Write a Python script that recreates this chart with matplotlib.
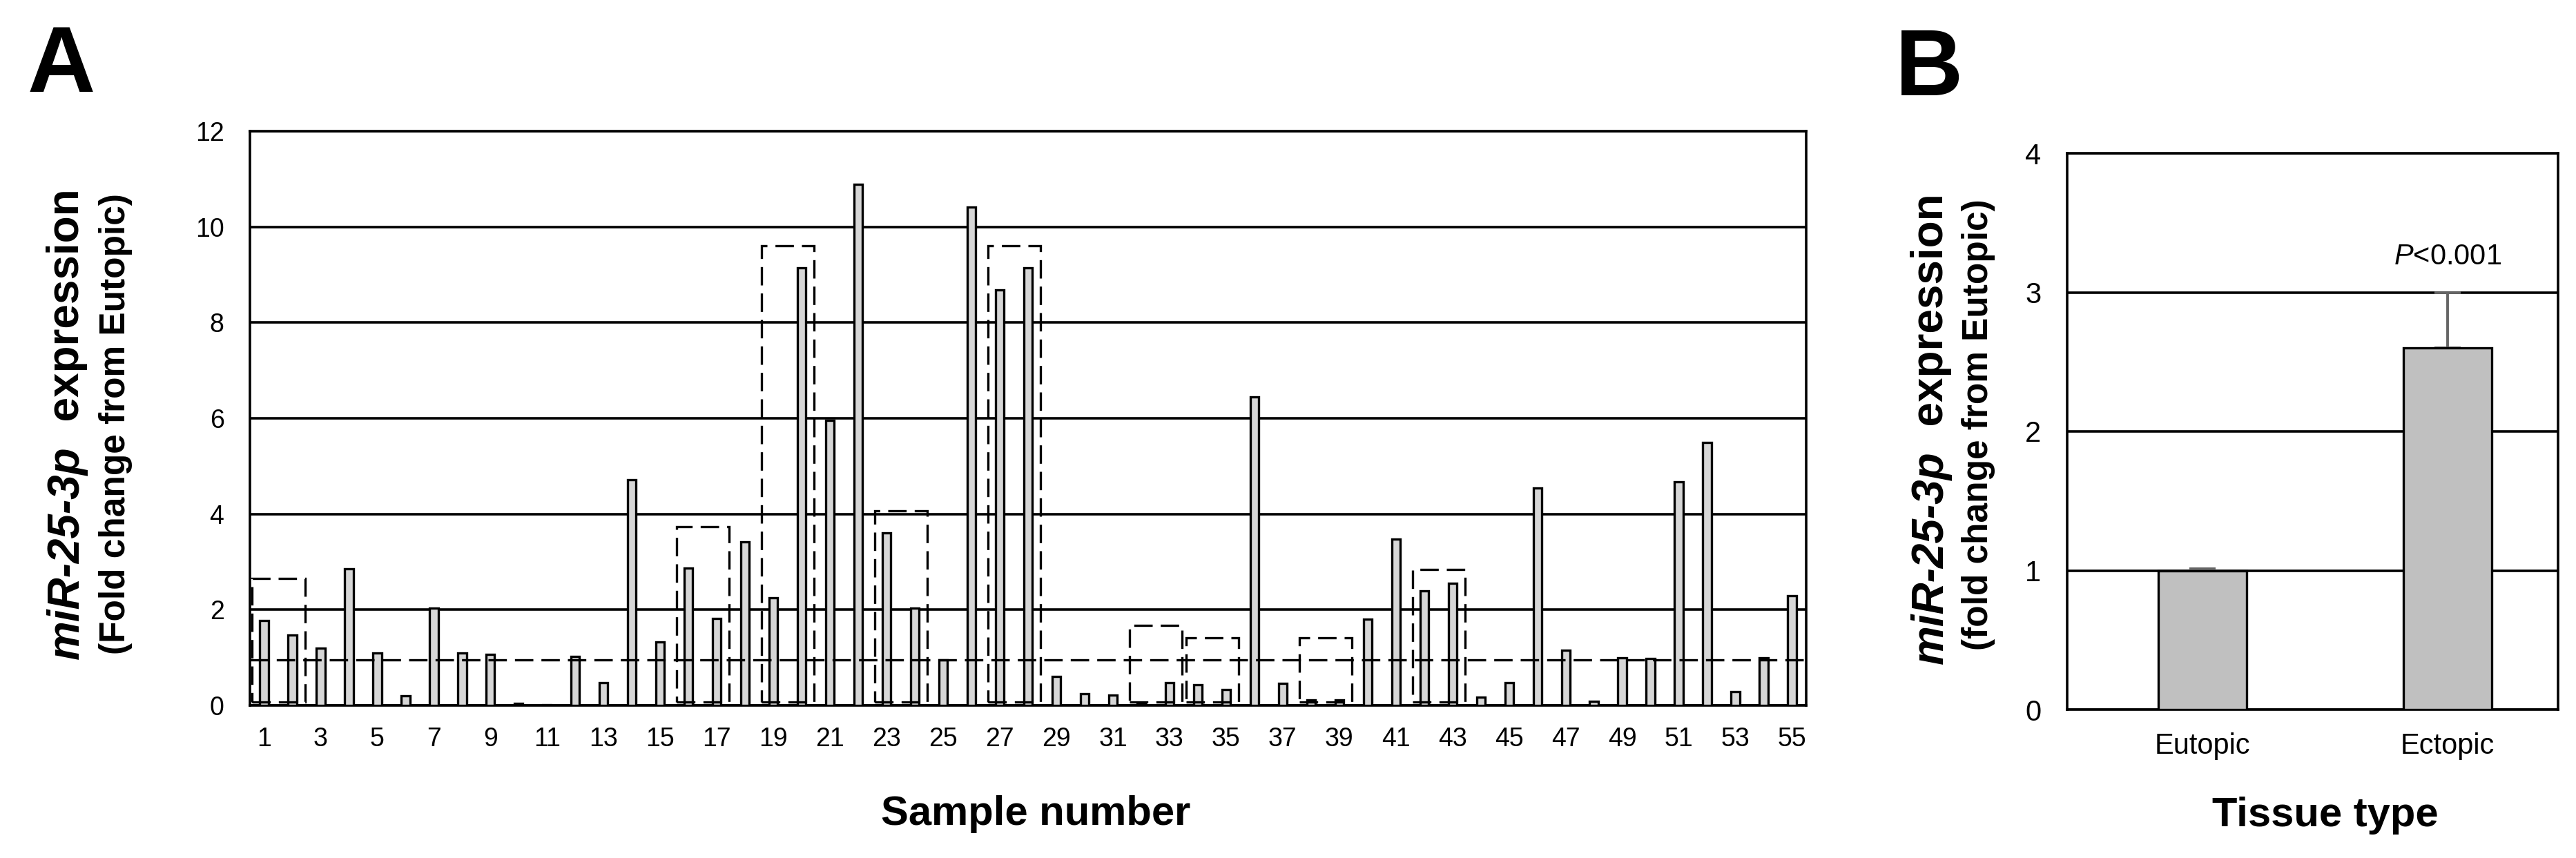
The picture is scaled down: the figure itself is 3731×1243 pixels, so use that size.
import matplotlib
matplotlib.use('Agg')
import matplotlib.pyplot as plt
from matplotlib.patches import Rectangle

plt.rcParams['font.family'] = ['Liberation Sans', 'DejaVu Sans']
plt.rcParams['mathtext.fontset'] = 'custom'
plt.rcParams['mathtext.rm'] = 'Liberation Sans'
plt.rcParams['mathtext.it'] = 'Liberation Sans:italic'

# Panel A: fold change per sample
samples = list(range(1, 56))
fold_change = [1.78, 1.47, 1.20, 2.85, 1.10, 0.20, 2.03, 1.10, 1.07, 0.05,
               0.02, 1.03, 0.47, 4.72, 1.32, 2.87, 1.82, 3.42, 2.25, 9.15,
               5.96, 10.89, 3.60, 2.04, 0.95, 10.41, 8.68, 9.15, 0.60, 0.25,
               0.22, 0.03, 0.48, 0.43, 0.33, 6.44, 0.46, 0.12, 0.12, 1.80,
               3.47, 2.40, 2.55, 0.18, 0.48, 4.54, 1.15, 0.08, 1.00, 0.98,
               4.68, 5.50, 0.29, 1.00, 2.30]
ref_level = 0.95
# highlighted sample pairs (first, last, box top)
box_first = [1, 16, 19, 23, 27, 32, 34, 38, 42]
box_last = [2, 17, 20, 24, 28, 33, 35, 39, 43]
box_top = [2.65, 3.74, 9.6, 4.07, 9.6, 1.67, 1.41, 1.41, 2.84]

# Panel B: mean fold change
tissue = ['Eutopic', 'Ectopic']
mean_fc = [1.0, 2.6]
err_fc = [0.01, 0.40]

W, H = 3731, 1243
fig = plt.figure(figsize=(W / 100, H / 100), dpi=100)

dash = (0, (8, 3.5))
lw = 2.4

# ---------- A ----------
axA = fig.add_axes([362 / W, 1 - 1022 / H, (2616 - 362) / W, (1022 - 190) / H])
axA.set_axisbelow(True)
axA.grid(axis='y', color='black', lw=2.6)
axA.bar(samples, fold_change, width=0.30, color='#d6d6d6', edgecolor='black',
        lw=lw, zorder=3)
axA.axhline(ref_level, color='black', lw=lw, ls=dash, zorder=4)
for a, b, top in zip(box_first, box_last, box_top):
    axA.add_patch(Rectangle((a - 0.42, 0.07), (b - a) + 0.86, top - 0.07,
                            fill=False, ec='black', lw=lw, ls=dash, zorder=5,
                            clip_on=False))
axA.set_xlim(0.5, 55.5)
axA.set_ylim(0, 12)
axA.set_yticks(range(0, 13, 2))
axA.set_xticks(samples[::2])
axA.tick_params(axis='both', length=0, labelsize=27)
axA.tick_params(axis='y', pad=27)
axA.tick_params(axis='x', pad=22)
for s in axA.spines.values():
    s.set_linewidth(2.6)

fig.text(40 / W, 1 - 133 / H, 'A', fontsize=98, fontweight='bold',
         ha='left', va='baseline')
t1 = fig.text(0.026, 1 - 955 / H, 'miR-25-3p', rotation=90, fontsize=46,
              fontweight='bold', style='italic', ha='center', va='bottom')
axA.annotate('  expression', xy=(0.5, 1), xycoords=t1, rotation=90,
             fontsize=46, fontweight='bold', ha='center', va='bottom',
             annotation_clip=False)
fig.text(0.0448, 0.506, '(Fold change from Eutopic)', rotation=90,
         fontsize=37, fontweight='bold', ha='center', va='center')
fig.text(1500 / W, 1 - 1195 / H, 'Sample number', fontsize=43,
         fontweight='bold', ha='center', va='baseline')

# ---------- B ----------
axB = fig.add_axes([2994 / W, 1 - 1028 / H, (3705 - 2994) / W, (1028 - 222) / H])
axB.set_axisbelow(True)
axB.grid(axis='y', color='black', lw=2.6)
xb = range(len(tissue))
axB.bar(xb, mean_fc, width=0.36, color='#c0c0c0', edgecolor='black', lw=lw,
        zorder=3)
axB.errorbar(xb, mean_fc, yerr=[[0, 0], err_fc], fmt='none', ecolor='#656565',
             elinewidth=2.8, capsize=14, capthick=2.8, zorder=2)
axB.text(1, 3.2, '$P$<0.001', fontsize=30, ha='center', va='baseline')
axB.set_xlim(-0.55, 1.45)
axB.set_ylim(0, 4)
axB.set_yticks(range(0, 5))
axB.set_xticks(list(xb))
axB.set_xticklabels(tissue)
axB.tick_params(axis='both', length=0, labelsize=30)
axB.tick_params(axis='y', pad=27)
axB.tick_params(axis='x', pad=24)
for s in axB.spines.values():
    s.set_linewidth(2.6)

fig.text(2745 / W, 1 - 138 / H, 'B', fontsize=98, fontweight='bold',
         ha='left', va='baseline')
t2 = fig.text(2797 / W, 1 - 962 / H, 'miR-25-3p', rotation=90, fontsize=46,
              fontweight='bold', style='italic', ha='center', va='bottom')
axB.annotate('  expression', xy=(0.5, 1), xycoords=t2, rotation=90,
             fontsize=46, fontweight='bold', ha='center', va='bottom',
             annotation_clip=False)
fig.text(2865 / W, 0.505, '(fold change from Eutopic)', rotation=90,
         fontsize=37, fontweight='bold', ha='center', va='center')
fig.text(3368 / W, 1 - 1197 / H, 'Tissue type', fontsize=43,
         fontweight='bold', ha='center', va='baseline')

fig.savefig('out.png', dpi=100)
